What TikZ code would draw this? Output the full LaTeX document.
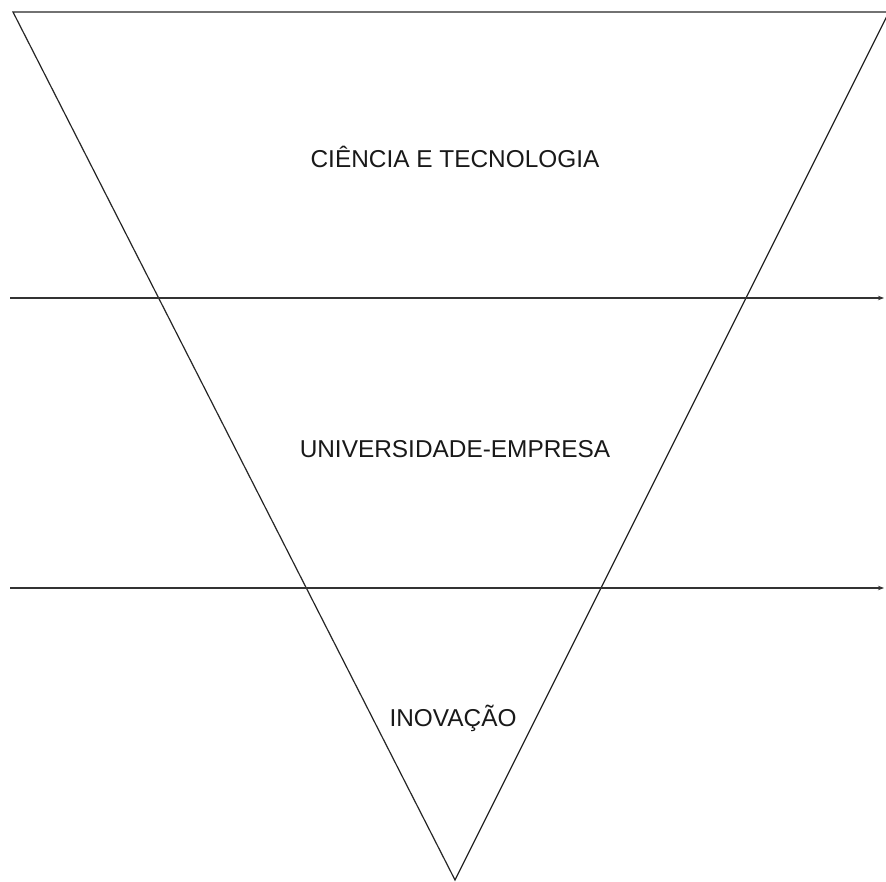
\documentclass[tikz,border=0pt]{standalone}
\usepackage{fontspec}
\setmainfont{Liberation Sans}
\usetikzlibrary{arrows.meta}
\begin{document}
\begin{tikzpicture}[x=1pt,y=-1pt,
  edge/.style={line width=1.2pt,draw=black!85},
  axis/.style={line width=1.2pt,draw=black!80,-{Stealth[length=6pt,width=4.5pt]}},
  lbl/.style={font=\fontsize{24.4}{28}\selectfont,text=black!90,inner sep=0pt}]
\useasboundingbox (0,0) rectangle (886,882);
\begin{scope}
\clip (0,0) rectangle (886,882);
\coordinate (tl) at (13,12);
\coordinate (tr) at (889,12);
\coordinate (ap) at (455,880);
\draw[edge,line join=miter] (tl) -- (tr) -- (ap) -- cycle;
\end{scope}
\coordinate (a1s) at (10,298);
\coordinate (a1e) at (884,298);
\coordinate (a2s) at (10,588);
\coordinate (a2e) at (884,588);
\draw[axis] (a1s) -- (a1e);
\draw[axis] (a2s) -- (a2e);
\node[lbl] (t1) at (455,157) {CIÊNCIA E TECNOLOGIA};
\node[lbl] (t2) at (455,449) {UNIVERSIDADE-EMPRESA};
\node[lbl] (t3) at (453,718) {INOVAÇÃO};
\end{tikzpicture}
\end{document}
